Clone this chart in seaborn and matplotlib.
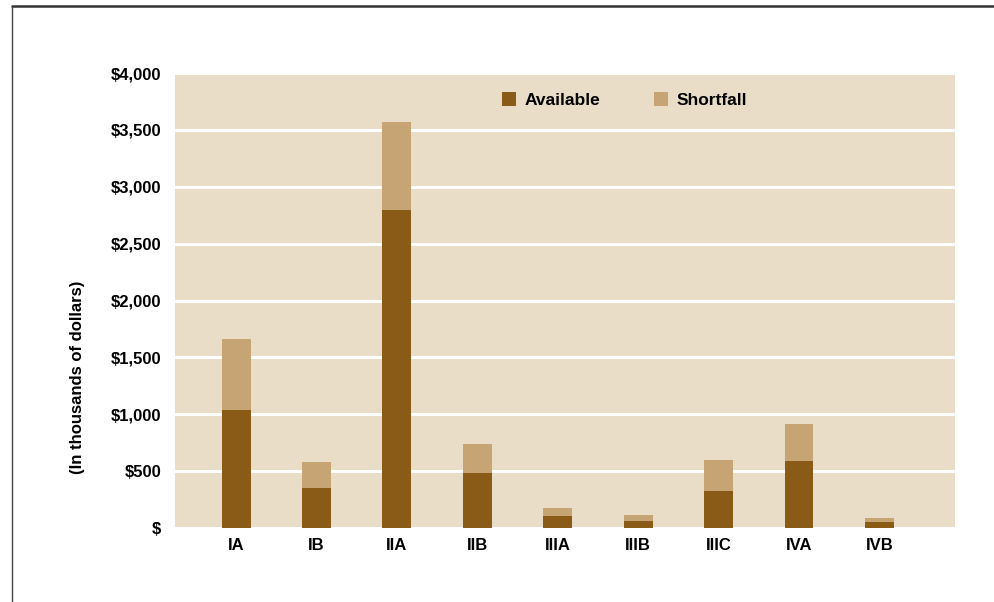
import matplotlib
matplotlib.use("Agg")
import matplotlib.pyplot as plt
from matplotlib.patches import Patch
from matplotlib.lines import Line2D
import pandas as pd
import seaborn as sns

# values in thousands of dollars
stages = ["IA", "IB", "IIA", "IIB", "IIIA", "IIIB", "IIIC", "IVA", "IVB"]
available = [1040, 350, 2800, 485, 105, 62, 325, 590, 53]
shortfall = [620, 230, 770, 255, 70, 52, 275, 325, 35]
yticks = [0, 500, 1000, 1500, 2000, 2500, 3000, 3500, 4000]
ytick_labels = ["$", "$500", "$1,000", "$1,500", "$2,000", "$2,500", "$3,000", "$3,500", "$4,000"]

dark = "#8A5A17"
light = "#C6A473"
bg = "#E9DDC7"

df = pd.DataFrame({"stage": stages, "available": available, "shortfall": shortfall})
df["total"] = df["available"] + df["shortfall"]

sns.set_style("white", {"axes.facecolor": bg, "text.color": "black",
                        "xtick.color": "black", "ytick.color": "black",
                        "axes.labelcolor": "black"})
plt.rcParams["font.family"] = ["Liberation Sans", "DejaVu Sans"]
plt.rcParams["font.weight"] = "bold"

fig = plt.figure(figsize=(9.95, 6.02), dpi=100)
ax = fig.add_axes([0.1759, 0.1229, 0.9598 - 0.1759, 0.8787 - 0.1229])

sns.barplot(data=df, x="stage", y="total", color=light, width=0.36,
            saturation=1, linewidth=0, ax=ax, zorder=3)
sns.barplot(data=df, x="stage", y="available", color=dark, width=0.36,
            saturation=1, linewidth=0, ax=ax, zorder=4)

ax.set_xlim(-0.76, 8.94)
ax.set_ylim(0, 4000)
ax.set_yticks(yticks)
ax.set_yticklabels(ytick_labels)
ax.yaxis.grid(True, color="white", linewidth=2.2, zorder=1)
ax.set_axisbelow(True)
for s in ax.spines.values():
    s.set_visible(False)
ax.tick_params(axis="both", length=0, labelsize=12, labelcolor="black")
ax.tick_params(axis="y", pad=10)
ax.tick_params(axis="x", pad=7)
for lab in ax.get_xticklabels() + ax.get_yticklabels():
    lab.set_fontweight("bold")
ax.set_xlabel("")
ax.set_ylabel("(In thousands of dollars)", fontsize=12, fontweight="bold", color="black")
ax.yaxis.set_label_coords(-0.115, 0.332)

handles = [Patch(facecolor=dark, edgecolor="none", label="Available"),
           Patch(facecolor=light, edgecolor="none", label="Shortfall")]
leg = ax.legend(handles=handles, loc="center", bbox_to_anchor=(0.576, 0.94), ncol=2,
                frameon=False, handlelength=0.8, handleheight=0.8, handletextpad=0.5,
                columnspacing=3.1, prop={"size": 12.5, "weight": "bold"})

# outer frame lines (top and left)
fig.add_artist(Line2D([0.012, 1.0], [0.990, 0.990], color="#333333", linewidth=1.8,
                      transform=fig.transFigure))
fig.add_artist(Line2D([0.012, 0.012], [0.0, 0.990], color="#444444", linewidth=1.0,
                      transform=fig.transFigure))

fig.savefig("out.png", dpi=100, facecolor="white")
